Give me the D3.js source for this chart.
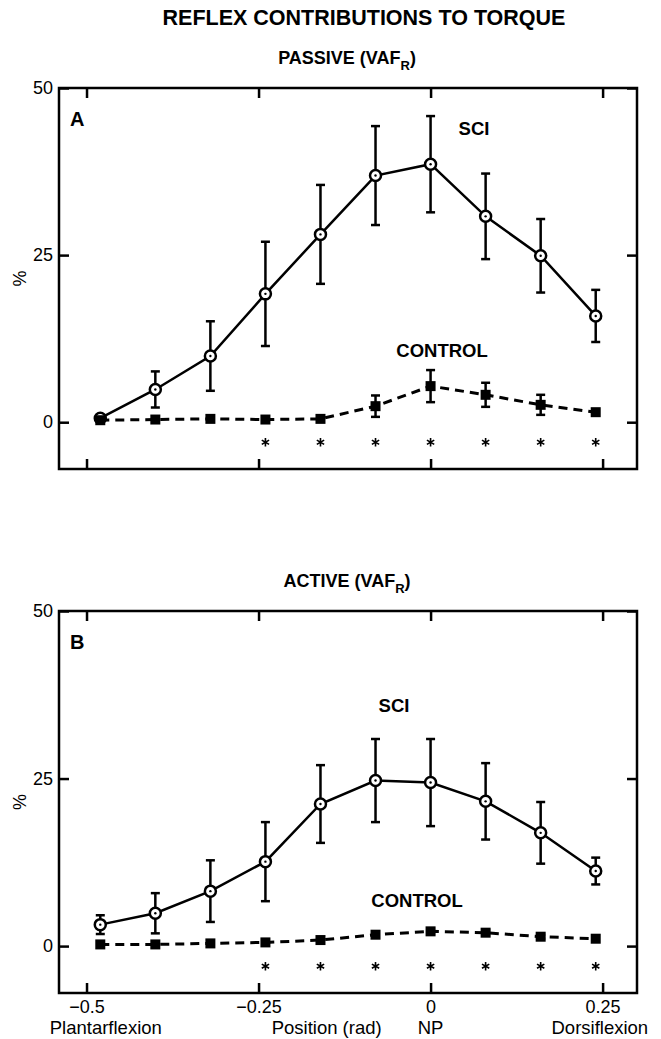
<!DOCTYPE html>
<html lang="en">
  <head>
    <title>Reflex Contributions to Torque</title>
    <script src="https://d3js.org/d3.v7.min.js"></script>
    <style>
      body { margin: 0; background: #fff; }
      svg { display: block; font-family: "Liberation Sans", Arial, sans-serif; }
    </style>
  </head>
  <body>
    <div id="chart"></div>
    <script>
      // joint position (rad) for each measurement
      const positions = [-0.48, -0.40, -0.32, -0.24, -0.16, -0.08, 0, 0.08, 0.16, 0.24];
      const xTicks = [-0.5, -0.25, 0, 0.25];
      const xTickLabels = ["\u22120.5", "\u22120.25", "0", "0.25"];
      const yTicks = [0, 25, 50];
      const significant = [false, false, false, true, true, true, true, true, true, true];

      // panel A - passive
      const passiveSci = [0.6, 4.9, 9.9, 19.2, 28.1, 36.9, 38.6, 30.8, 24.9, 15.9];
      const passiveSciErr = [0.4, 2.7, 5.2, 7.8, 7.4, 7.4, 7.2, 6.4, 5.5, 3.9];
      const passiveControl = [0.3, 0.4, 0.5, 0.4, 0.5, 2.4, 5.4, 4.1, 2.6, 1.5];
      const passiveControlErr = [0, 0, 0, 0, 0, 1.6, 2.4, 1.8, 1.5, 0];

      // panel B - active
      const activeSci = [3.2, 4.9, 8.2, 12.6, 21.2, 24.7, 24.4, 21.6, 16.9, 11.2];
      const activeSciErr = [1.4, 3.0, 4.6, 5.9, 5.8, 6.2, 6.5, 5.7, 4.6, 2.0];
      const activeControl = [0.25, 0.25, 0.4, 0.55, 0.9, 1.7, 2.2, 2.0, 1.4, 1.1];
      const activeControlErr = [0, 0, 0, 0, 0, 0.4, 0.4, 0.4, 0.3, 0];

      const width = 661;
      const height = 1039;

      const svg = d3
        .select("#chart")
        .append("svg")
        .attr("width", width)
        .attr("height", height);

      svg
        .append("text")
        .attr("x", 364)
        .attr("y", 25)
        .attr("text-anchor", "middle")
        .style("font-size", "21.5px")
        .style("font-weight", "bold")
        .text("REFLEX CONTRIBUTIONS TO TORQUE");

      const x = d3.scaleLinear().domain([-0.54, 0.30]).range([59, 637]);

      const zip = (vals, errs) =>
        positions.map((p, i) => ({ x: p, y: vals[i], err: errs[i], sig: significant[i] }));

      const drawPanel = (cfg) => {
        const y = d3.scaleLinear().domain([-7, 50]).range([cfg.bottom, cfg.top]);
        const g = svg.append("g");

        // subtitle with subscript R
        const sub = g
          .append("text")
          .attr("x", 347)
          .attr("y", cfg.top - 24)
          .attr("text-anchor", "middle")
          .style("font-size", "18px")
          .style("font-weight", "bold");
        sub.append("tspan").text(cfg.title + " (VAF");
        sub.append("tspan").attr("dy", 6).style("font-size", "13px").text("R");
        sub.append("tspan").attr("dy", -6).text(")");

        // axes with inward ticks on all four sides
        const left = g
          .append("g")
          .attr("transform", `translate(${x.range()[0]},0)`)
          .call(d3.axisLeft(y).tickValues(yTicks).tickSize(-10).tickPadding(6));
        const right = g
          .append("g")
          .attr("transform", `translate(${x.range()[1]},0)`)
          .call(d3.axisRight(y).tickValues(yTicks).tickSize(-10).tickFormat(""));
        const top = g
          .append("g")
          .attr("transform", `translate(0,${cfg.top})`)
          .call(d3.axisTop(x).tickValues(xTicks).tickSize(-10).tickFormat(""));
        const bottom = g
          .append("g")
          .attr("transform", `translate(0,${cfg.bottom})`)
          .call(
            d3
              .axisBottom(x)
              .tickValues(xTicks)
              .tickSize(-10)
              .tickPadding(7)
              .tickFormat((d, i) => (cfg.xLabels ? xTickLabels[i] : ""))
          );

        [left, right, top, bottom].forEach((a) => {
          a.select(".domain").remove();
          a.selectAll(".tick line").attr("stroke", "#000").attr("stroke-width", 2.5);
          a.selectAll("text")
            .attr("fill", "#000")
            .style("font-size", "18px")
            .style("font-family", "'Liberation Sans', Arial, sans-serif");
        });

        g.append("rect")
          .attr("x", x.range()[0])
          .attr("y", cfg.top)
          .attr("width", x.range()[1] - x.range()[0])
          .attr("height", cfg.bottom - cfg.top)
          .attr("fill", "none")
          .attr("stroke", "#000")
          .attr("stroke-width", 2.5);

        g.append("text")
          .attr("transform", `translate(26,${(cfg.top + cfg.bottom) / 2}) rotate(-90)`)
          .attr("text-anchor", "middle")
          .style("font-size", "18px")
          .text("%");

        g.append("text")
          .attr("x", 70)
          .attr("y", cfg.top + 38)
          .style("font-size", "20px")
          .style("font-weight", "bold")
          .text(cfg.letter);

        const line = d3
          .line()
          .x((d) => x(d.x))
          .y((d) => y(d.y));

        const errorBars = (data) => {
          const eb = g
            .append("g")
            .attr("stroke", "#000")
            .attr("stroke-width", 2.5)
            .selectAll("g")
            .data(data.filter((d) => d.err > 0))
            .join("g");
          eb.append("line")
            .attr("x1", (d) => x(d.x))
            .attr("x2", (d) => x(d.x))
            .attr("y1", (d) => y(d.y - d.err))
            .attr("y2", (d) => y(d.y + d.err));
          [-1, 1].forEach((s) =>
            eb
              .append("line")
              .attr("x1", (d) => x(d.x) - 4.5)
              .attr("x2", (d) => x(d.x) + 4.5)
              .attr("y1", (d) => y(d.y + s * d.err))
              .attr("y2", (d) => y(d.y + s * d.err))
          );
        };

        // SCI series
        const sci = zip(cfg.sci, cfg.sciErr);
        g.append("path")
          .datum(sci)
          .attr("fill", "none")
          .attr("stroke", "#000")
          .attr("stroke-width", 2.5)
          .attr("d", line);
        errorBars(sci);
        g.selectAll(".sci-pt")
          .data(sci)
          .join("circle")
          .attr("class", "sci-pt")
          .attr("cx", (d) => x(d.x))
          .attr("cy", (d) => y(d.y))
          .attr("r", 5.5)
          .attr("fill", "#fff")
          .attr("stroke", "#000")
          .attr("stroke-width", 2.5);
        g.selectAll(".sci-dot")
          .data(sci)
          .join("circle")
          .attr("class", "sci-dot")
          .attr("cx", (d) => x(d.x))
          .attr("cy", (d) => y(d.y))
          .attr("r", 1.2)
          .attr("fill", "#000");

        // control series
        const ctrl = zip(cfg.control, cfg.controlErr);
        g.append("path")
          .datum(ctrl)
          .attr("fill", "none")
          .attr("stroke", "#000")
          .attr("stroke-width", 3)
          .attr("stroke-dasharray", "9,6")
          .attr("d", line);
        errorBars(ctrl);
        g.selectAll(".ctrl-pt")
          .data(ctrl)
          .join("rect")
          .attr("class", "ctrl-pt")
          .attr("x", (d) => x(d.x) - 5)
          .attr("y", (d) => y(d.y) - 5)
          .attr("width", 10)
          .attr("height", 10)
          .attr("fill", "#000");

        // significance asterisks
        g.selectAll(".sig")
          .data(sci.filter((d) => d.sig))
          .join("path")
          .attr("class", "sig")
          .attr("transform", (d) => `translate(${x(d.x)},${y(-3)})`)
          .attr("d", d3.symbol(d3.symbolAsterisk, 50))
          .attr("fill", "none")
          .attr("stroke", "#000")
          .attr("stroke-width", 1.6);

        g.append("text")
          .attr("x", cfg.sciLabel[0])
          .attr("y", y(cfg.sciLabel[1]))
          .attr("text-anchor", "middle")
          .style("font-size", "18.5px")
          .style("font-weight", "bold")
          .text("SCI");

        g.append("text")
          .attr("x", cfg.controlLabel[0])
          .attr("y", y(cfg.controlLabel[1]))
          .attr("text-anchor", "middle")
          .style("font-size", "18.5px")
          .style("font-weight", "bold")
          .text("CONTROL");

        return y;
      };

      drawPanel({
        title: "PASSIVE",
        letter: "A",
        top: 88,
        bottom: 469,
        sci: passiveSci,
        sciErr: passiveSciErr,
        control: passiveControl,
        controlErr: passiveControlErr,
        sciLabel: [474, 43],
        controlLabel: [442, 9.7],
        xLabels: false,
      });

      drawPanel({
        title: "ACTIVE",
        letter: "B",
        top: 611,
        bottom: 993,
        sci: activeSci,
        sciErr: activeSciErr,
        control: activeControl,
        controlErr: activeControlErr,
        sciLabel: [394, 35],
        controlLabel: [417, 5.8],
        xLabels: true,
      });

      // x axis words under the bottom panel
      const words = [
        { text: "Plantarflexion", at: -0.472 },
        { text: "Position (rad)", at: -0.151 },
        { text: "NP", at: 0 },
        { text: "Dorsiflexion", at: 0.246 },
      ];
      svg
        .selectAll(".word")
        .data(words)
        .join("text")
        .attr("class", "word")
        .attr("x", (d) => x(d.at))
        .attr("y", 1034)
        .attr("text-anchor", "middle")
        .style("font-size", "18.5px")
        .text((d) => d.text);
    </script>
  </body>
</html>
